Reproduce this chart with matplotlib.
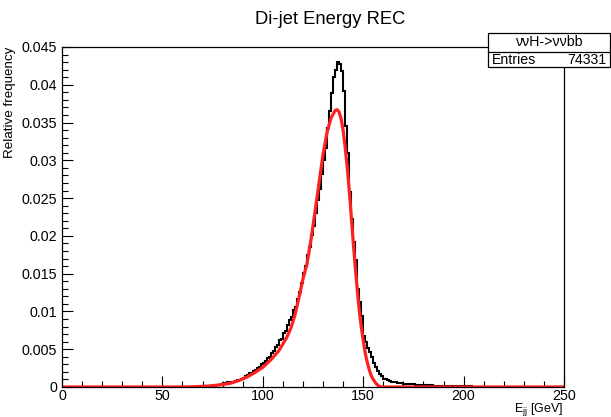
import matplotlib
matplotlib.use("Agg")
import matplotlib.pyplot as plt
import numpy as np
from matplotlib.patches import Rectangle
from matplotlib.lines import Line2D
from matplotlib.ticker import MultipleLocator

plt.rcParams["font.family"] = ["Liberation Sans", "DejaVu Sans"]
plt.rcParams["mathtext.fontset"] = "custom"
plt.rcParams["mathtext.rm"] = "Liberation Sans"
plt.rcParams["mathtext.it"] = "Liberation Sans"

# --- histogram: 1 GeV bins, first filled bin at 64 GeV ---
FIRST_BIN = 64
hist_vals = [
    0, 0.00002, 0, 0.00003, 0.00002, 0.00005,                                  # 64-69
    0.00005, 0.00008, 0.0001, 0.00012, 0.00015, 0.0002, 0.00022, 0.00028, 0.0003, 0.00036,  # 70-79
    0.0005, 0.00048, 0.0006, 0.00058, 0.0007, 0.00068, 0.0008, 0.0009, 0.00098, 0.0011,     # 80-89
    0.0012, 0.0014, 0.0016, 0.0018, 0.0018, 0.0021, 0.0022, 0.0025, 0.0026, 0.0030,         # 90-99
    0.0032, 0.0034, 0.0038, 0.0040, 0.0045, 0.0048, 0.0053, 0.0055, 0.0062, 0.0064,         # 100-109
    0.0071, 0.0074, 0.0082, 0.0089, 0.0093, 0.0102, 0.0106, 0.0117, 0.0126, 0.0138,         # 110-119
    0.0151, 0.0160, 0.0175, 0.0185, 0.0201, 0.0213, 0.0230, 0.0247, 0.0262, 0.0282,         # 120-129
    0.0300, 0.0316, 0.0343, 0.0365, 0.0389, 0.0410, 0.0420, 0.0430, 0.0428, 0.0418,         # 130-139
    0.0392, 0.0345, 0.0310, 0.0258, 0.0222, 0.0192, 0.0168, 0.0130, 0.0112, 0.0094,         # 140-149
    0.0068, 0.0060, 0.0052, 0.0046, 0.0040, 0.0032, 0.0027, 0.0021, 0.0017, 0.0014,         # 150-159
    0.0011, 0.0010, 0.0009, 0.0008, 0.0007, 0.0007, 0.0006, 0.00058, 0.0005, 0.0005,        # 160-169
    0.00045, 0.00042, 0.0004, 0.00038, 0.00035, 0.00036, 0.0003, 0.0003, 0.00028, 0.00027,  # 170-179
    0.00025, 0.00024, 0.00022, 0.00022, 0.0002, 0.00018, 0.00019, 0.00016, 0.00017, 0.00015,  # 180-189
    0.00014, 0.00014, 0.00012, 0.00013, 0.00011, 0.0001, 0.0001, 0.00009, 0.0001, 0.00008,  # 190-199
    0.00008, 0.00007, 0.00006, 0.00007, 0.00005, 0.00004, 0.00003, 0.00002, 0.00002, 0.00001,  # 200-209
]

# --- fit curve ---
fit_x = [0, 60, 64, 68, 72, 76, 80, 84, 88, 92, 96, 100, 104, 108, 112, 114, 116,
         118, 120, 122, 124, 126, 128, 130, 132, 134, 136, 137, 138, 139, 140, 141,
         142, 143, 144, 145, 146, 147, 148, 149, 150, 151, 152, 153, 154, 155, 156,
         157, 158, 159, 250]
fit_y = [0, 0, 0.00002, 0.00006, 0.00011, 0.0002, 0.00033, 0.0005, 0.00085, 0.0013,
         0.0019, 0.0026, 0.0036, 0.0048, 0.0066, 0.0078, 0.0095, 0.0118, 0.0143,
         0.0163, 0.0195, 0.0232, 0.0270, 0.0308, 0.0337, 0.0356, 0.0366, 0.0367,
         0.0364, 0.0355, 0.0340, 0.0318, 0.0292, 0.0262, 0.0228, 0.0193, 0.0160,
         0.0130, 0.0102, 0.0080, 0.0062, 0.0045, 0.0033, 0.0023, 0.0015, 0.0010,
         0.0006, 0.0003, 0.0001, 0.0, 0.0]

x_ticks = [0, 50, 100, 150, 200, 250]
y_ticks = [0, 0.005, 0.01, 0.015, 0.02, 0.025, 0.03, 0.035, 0.04, 0.045]
y_tick_labels = ["0", "0.005", "0.01", "0.015", "0.02", "0.025", "0.03",
                 "0.035", "0.04", "0.045"]

vals = np.zeros(250)
vals[FIRST_BIN:FIRST_BIN + len(hist_vals)] = hist_vals
edges = np.arange(0, 251)

W, H = 611, 417
fig = plt.figure(figsize=(W / 100, H / 100), dpi=100)
ax = fig.add_axes([62 / W, 1 - 387 / H, (564 - 62) / W, (387 - 47) / H])

ax.stairs(vals, edges, color="black", lw=1.5, baseline=None)
ax.plot(fit_x, fit_y, color="#ff2020", lw=2.3)

ax.set_xlim(0, 250)
ax.set_ylim(0, 0.045)
ax.set_xticks(x_ticks)
ax.set_xticklabels([str(t) for t in x_ticks])
ax.set_yticks(y_ticks)
ax.set_yticklabels(y_tick_labels)
ax.xaxis.set_minor_locator(MultipleLocator(10))
ax.yaxis.set_minor_locator(MultipleLocator(0.001))
ax.tick_params(which="both", direction="in", top=False, right=False,
               labelsize=10.3, width=0.8)
ax.tick_params(which="major", length=8)
ax.tick_params(which="minor", length=4)
ax.tick_params(axis="x", pad=1.5)
for s in ax.spines.values():
    s.set_linewidth(0.9)

fig.text(330 / W, 1 - 20 / H, "Di-jet Energy REC", ha="center", va="center",
         fontsize=13.2)
fig.text(10 / W, 1 - 47 / H, "Relative frequency", rotation=90,
         ha="center", va="top", fontsize=9.6)
fig.text(563 / W, 1 - 409 / H, r"E$_{\mathrm{jj}}$ [GeV]", ha="right",
         va="center", fontsize=9.0)

# stats box
bx0, bx1, by0, by1, bmid = 488, 610, 67, 33, 52
fig.add_artist(Rectangle((bx0 / W, 1 - by0 / H), (bx1 - bx0) / W, (by0 - by1) / H,
                         transform=fig.transFigure, facecolor="white",
                         edgecolor="black", lw=0.9, zorder=5))
fig.add_artist(Line2D([bx0 / W, bx1 / W], [1 - bmid / H, 1 - bmid / H],
                      transform=fig.transFigure, color="black", lw=0.9, zorder=6))
fig.text((bx0 + bx1) / 2 / W, 1 - 42.5 / H, "ννH->ννbb", ha="center",
         va="center", fontsize=10.2, zorder=7)
fig.text(492 / W, 1 - 60 / H, "Entries", ha="left", va="center",
         fontsize=10.2, zorder=7)
fig.text(607 / W, 1 - 60 / H, "74331", ha="right", va="center",
         fontsize=10.2, zorder=7)

fig.savefig("out.png", dpi=100)
